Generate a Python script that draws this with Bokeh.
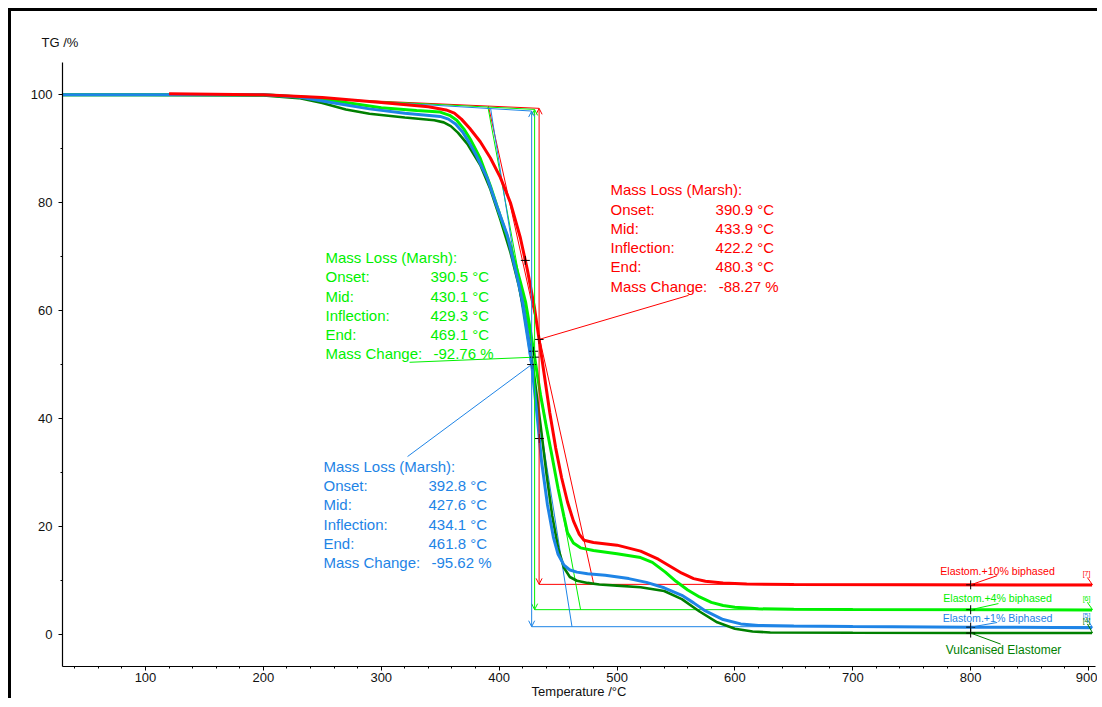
import numpy as np
from bokeh.plotting import figure
from bokeh.models import Arrow, OpenHead, FixedTicker, Range1d
from bokeh.core.properties import value
from bokeh.embed import file_html
from bokeh.resources import INLINE

FONT = "Liberation Sans"

# ---------------- data ----------------
red_T = [120, 200, 250, 300, 340, 355, 362, 368, 375, 384, 392.6, 401, 409.6, 418, 424, 430, 434, 438,
         443, 448, 453, 458, 463, 468, 472, 480, 500, 520, 535, 545, 555, 565, 575, 590, 610, 650, 903]
red_y = [100.2, 100, 99.5, 98.6, 97.8, 97.2, 96.6, 95.5, 93.8, 91.3, 88.3, 84.7, 80.0, 73.5, 67.5, 60.5,
         54.5, 48.5, 41, 34.5, 29, 24.5, 21, 18.5, 17.4, 17.0, 16.5, 15.4, 13.9, 12.6, 11.3, 10.3, 9.8,
         9.5, 9.3, 9.2, 9.1]

green_T = [30, 100, 200, 240, 270, 300, 330, 350, 358, 364, 370, 376, 384, 392.6, 401, 409.6, 418, 422.5,
           426, 430, 435, 440, 444, 450, 455, 458, 463, 469, 480, 500, 520, 530, 541, 550, 560, 570, 580,
           590, 600, 620, 650, 700, 903]
green_y = [100, 100, 100, 99.5, 98.6, 97.6, 97.1, 96.8, 96.2, 95.3, 93.7, 91.6, 88.2, 83.1, 77.5, 72,
           65.3, 61.5, 57, 51.5, 44.5, 38.5, 34, 27, 21.8, 18.8, 16.9, 16, 15.5, 14.9, 14.2, 13.3, 11.5,
           9.8, 8.2, 6.9, 5.9, 5.3, 5.0, 4.7, 4.6, 4.55, 4.5]

blue_T = [30, 100, 200, 230, 260, 290, 320, 350, 357, 363, 369, 375, 381, 390, 398, 407, 415, 420, 425,
          428, 432, 436, 441, 446, 450, 455, 460, 466, 475, 490, 510, 525, 540, 555, 565, 575, 590, 605,
          620, 650, 700, 800, 903]
blue_y = [100, 100, 100, 99.6, 98.5, 97.4, 96.6, 96.0, 95.5, 94.6, 93.1, 91.0, 88.6, 84.5, 79.4, 73.9,
          66.5, 61.5, 54.5, 49.3, 41, 32, 24, 18, 14.8, 12.8, 11.9, 11.5, 11.2, 10.9, 10.3, 9.6, 8.6, 7.2,
          5.8, 4.3, 2.7, 1.9, 1.6, 1.5, 1.4, 1.3, 1.2]

dkgreen_T = [30, 100, 200, 230, 250, 270, 290, 320, 345, 353, 359, 365, 373, 384, 392.6, 401, 409.6,
             416.7, 421, 426, 430, 435, 440, 445, 450, 455, 460, 466, 475, 485, 500, 520, 540, 555, 570,
             585, 600, 615, 630, 700, 800, 903]
dkgreen_y = [100, 100, 99.9, 99.4, 98.5, 97.3, 96.5, 95.8, 95.3, 94.9, 94.2, 93.0, 90.9, 87.0, 82.5,
             76.9, 70.8, 64.6, 60, 53.5, 47.5, 39, 30, 22, 16, 12.3, 10.6, 9.9, 9.5, 9.2, 9.0, 8.7, 8.0,
             6.5, 4.2, 2.2, 1.0, 0.5, 0.3, 0.25, 0.2, 0.2]

series_names = ["Elastom.+10% biphased", "Elastom.+4% biphased", "Elastom.+1% Biphased", "Vulcanised Elastomer"]
series_ids = ["[7]", "[6]", "[5]", "[4]"]

# Marsh mass-loss evaluation (red, green, blue)
marsh_onset = [390.9, 390.5, 392.8]
marsh_mid = [433.9, 430.1, 427.6]
marsh_infl = [422.2, 429.3, 434.1]
marsh_end = [480.3, 469.1, 461.8]
marsh_change = [-88.27, -92.76, -95.62]
step_top = [97.5, 97.3, 97.0]
baseline_T0 = 250
baseline_y0 = 99.3

x_major = [100, 200, 300, 400, 500, 600, 700, 800, 900]
y_major = [0, 20, 40, 60, 80, 100]

# ---------------- styling ----------------
RED = "#ff0000"
GREEN = "#00f000"
BLUE = "#1e84e6"
DKGREEN = "#008000"
marsh_cols = [RED, GREEN, BLUE]
series_cols = [RED, GREEN, BLUE, DKGREEN]

p = figure(width=1089, height=690, x_range=Range1d(29.6, 905.9), y_range=Range1d(-6, 106),
           output_backend="svg", toolbar_location=None, title="TG /%",
           min_border_left=51, min_border_top=51, min_border_right=5, min_border_bottom=32)
p.styles = {"margin-left": "8px", "margin-top": "8px",
            "border-top": "3px solid black", "border-left": "3px solid black"}
p.title.align = "left"
p.title.offset = -21
p.title.standoff = 26
p.title.text_font = FONT
p.title.text_font_size = "13px"
p.title.text_font_style = "normal"
p.title.text_color = "#111111"
p.outline_line_color = None
p.xgrid.visible = False
p.ygrid.visible = False

p.xaxis.ticker = FixedTicker(ticks=x_major, minor_ticks=list(range(40, 901, 20)))
p.yaxis.ticker = FixedTicker(ticks=y_major, minor_ticks=list(range(0, 101, 10)))
for ax in (p.xaxis[0], p.yaxis[0]):
    ax.axis_line_color = "black"
    ax.axis_line_width = 1.2
    ax.major_tick_line_color = "black"
    ax.minor_tick_line_color = "black"
    ax.major_tick_in = 0
    ax.minor_tick_in = 0
    ax.major_tick_out = 4
    ax.minor_tick_out = 2
    ax.major_label_text_font = FONT
    ax.major_label_text_font_size = "13px"
    ax.major_label_text_color = "#111111"
p.xaxis.major_label_standoff = 2
p.yaxis.major_label_standoff = 6
p.xaxis.axis_label = "Temperature /°C"
p.xaxis.axis_label_text_font = FONT
p.xaxis.axis_label_text_font_size = "13px"
p.xaxis.axis_label_text_font_style = "normal"
p.xaxis.axis_label_text_color = "#111111"
p.xaxis.axis_label_standoff = -1

# ---------------- Marsh construction lines ----------------
for i in range(3):
    c = marsh_cols[i]
    top = step_top[i]
    bottom = top + marsh_change[i]
    mid = marsh_mid[i]
    p.line([baseline_T0, mid], [baseline_y0, top], line_color=c, line_width=1)
    y_on = np.interp(marsh_onset[i], [baseline_T0, mid], [baseline_y0, top])
    p.line([marsh_onset[i], marsh_end[i]], [y_on, bottom], line_color=c, line_width=1)
    p.line([mid, 903], [bottom, bottom], line_color=c, line_width=1)
    p.add_layout(Arrow(x_start=mid, y_start=bottom, x_end=mid, y_end=top, line_color=c, line_width=1,
                       start=OpenHead(size=6, line_color=c, line_width=1),
                       end=OpenHead(size=6, line_color=c, line_width=1)))

# ---------------- curves ----------------
p.line(dkgreen_T, dkgreen_y, line_color=DKGREEN, line_width=2.6)
p.line(green_T, green_y, line_color=GREEN, line_width=3)
p.line(blue_T, blue_y, line_color=BLUE, line_width=3)
p.line(red_T, red_y, line_color=RED, line_width=3)

curves = [(red_T, red_y), (green_T, green_y), (blue_T, blue_y), (dkgreen_T, dkgreen_y)]

# ---------------- evaluation text blocks ----------------
block_x_label = [494.5, 252.7, 251.0]
block_x_value = [583.6, 341.8, 340.1]
block_x_change = [586.2, 344.3, 342.6]
block_y_title = [82.38, 69.83, 31.09]
row_step = 3.57
leader_end_x = [560.7, 324.0, 322.3]
leader_end_y = [62.82, 50.41, 32.93]

for i in range(3):
    c = marsh_cols[i]
    names = ["Mass Loss (Marsh):", "Onset:", "Mid:", "Inflection:", "End:", "Mass Change:"]
    ys = [block_y_title[i] - k * row_step for k in range(6)]
    p.text(x=[block_x_label[i]] * 6, y=ys, text=names, text_color=c, text_font=value(FONT),
           text_font_size=value("15px"), text_baseline="middle", text_align="left")
    vals = [f"{marsh_onset[i]:.1f} °C", f"{marsh_mid[i]:.1f} °C", f"{marsh_infl[i]:.1f} °C",
            f"{marsh_end[i]:.1f} °C"]
    p.text(x=[block_x_value[i]] * 4, y=ys[1:5], text=vals, text_color=c, text_font=value(FONT),
           text_font_size=value("15px"), text_baseline="middle", text_align="left")
    p.text(x=[block_x_change[i]], y=[ys[5]], text=[f"{marsh_change[i]:.2f} %"], text_color=c,
           text_font=value(FONT), text_font_size=value("15px"), text_baseline="middle", text_align="left")
    T, Y = curves[i]
    y_mid = float(np.interp(marsh_mid[i], T, Y))
    p.line([marsh_mid[i], leader_end_x[i]], [y_mid, leader_end_y[i]], line_color=c, line_width=1)

# markers on curves (mid + inflection) and at 800 °C
mx, my = [], []
for i in range(3):
    T, Y = curves[i]
    for t in (marsh_mid[i], marsh_infl[i]):
        mx.append(t)
        my.append(float(np.interp(t, T, Y)))
for T, Y in curves:
    mx.append(800)
    my.append(float(np.interp(800, T, Y)))
p.scatter(mx, my, marker="cross", size=9, line_color="black", line_width=1)

# ---------------- series labels ----------------
lab_x = [822.8, 822.8, 822.8, 827.9]
lab_y = [11.71, 6.73, 2.96, -2.87]
lab_size = ["10.6px", "10.6px", "10.6px", "12px"]
lead_x = [822.5, 823.6, 822.5, 825.4]
lead_y = [10.85, 5.67, 2.16, -1.84]
id_y = [11.2, 6.6, 3.4, 2.6]
for j in range(4):
    c = series_cols[j]
    T, Y = curves[j]
    y800 = float(np.interp(800, T, Y))
    p.text(x=[lab_x[j]], y=[lab_y[j]], text=[series_names[j]], text_color=c, text_font=value(FONT),
           text_font_size=value(lab_size[j]), text_baseline="middle", text_align="center")
    p.line([800, lead_x[j]], [y800, lead_y[j]], line_color=c, line_width=1)
    p.text(x=[898.3], y=[id_y[j]], text=[series_ids[j]], text_color=c, text_font=value(FONT),
           text_font_size=value("7px"), text_baseline="middle", text_align="center")
    p.line([899.0, 903.5], [id_y[j] - 0.7, Y[-1]], line_color=c, line_width=1)

open("out.html", "w").write(file_html(p, INLINE))
